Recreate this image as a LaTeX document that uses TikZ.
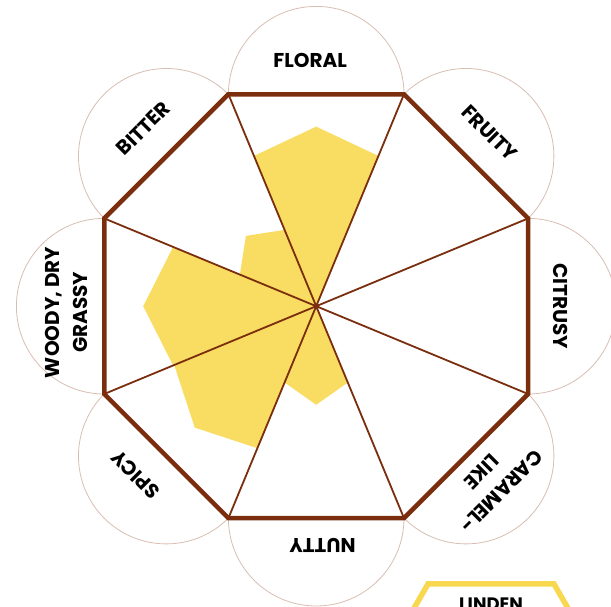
\documentclass[tikz,border=0pt]{standalone}
\usepackage{fontspec}
\usepackage{tikz}
\newfontfamily\labelfont{Poppins}
\definecolor{roast}{HTML}{7A2E0E}
\definecolor{honey}{HTML}{F9DC62}
\definecolor{rimcol}{HTML}{D8BDB2}
\definecolor{badgecol}{HTML}{F7D84F}

\begin{document}
\begin{tikzpicture}[x=1pt,y=1pt,
  spoke/.style={draw=roast, line width=1.8pt},
  rim/.style={draw=rimcol, line width=0.8pt},
  flavour/.style={font=\labelfont\bfseries\fontsize{20}{28}\selectfont,
    align=center, inner sep=0pt},
  ]
  \useasboundingbox (-316.2,-300.8) rectangle (294.8,306.2);
  \foreach \a in {0,45,...,315}
    \draw[rim] (\a:212) circle (87.8);
  \foreach \i in {1,...,8}
    \coordinate (v\i) at ({22.5+45*(\i-1)}:229.4);
  \fill[white] (v1) -- (v2) -- (v3) -- (v4) -- (v5) -- (v6) -- (v7) -- (v8) -- cycle;
  \fill[honey] (0,0)
    \foreach \a/\t/\p in {0/0/0, 45/0/0, 90/.709/.847, 135/.36/.469,
                          180/.675/.816, 225/.67/.81, 270/.36/.465, 315/0/0}
    { -- (\a-22.5:\t*229.4) -- (\a:\p*212) -- (\a+22.5:\t*229.4) } -- cycle;
  \draw[spoke] (v1) -- (v5) (v2) -- (v6) (v3) -- (v7) (v4) -- (v8);
  \draw[roast, line width=4.5pt] (v1) -- (v2) -- (v3) -- (v4) -- (v5) -- (v6) -- (v7) -- (v8) -- cycle;
  \node[flavour] (floral) at (91.4:246) {FLORAL};
  \node[flavour, rotate=-45] (fruity) at (45:245) {FRUITY};
  \node[flavour, rotate=-90] (citrusy) at (0:244) {CITRUSY};
  \node[flavour, rotate=-135] (caramel) at (-45:248) {CARAMEL-\\LIKE};
  \node[flavour, rotate=180] (nutty) at (-88.5:239) {NUTTY};
  \node[flavour, rotate=135] (spicy) at (-137:247) {SPICY};
  \node[flavour, rotate=90] (woody) at (181.4:250) {WOODY, DRY\\GRASSY};
  \node[flavour, rotate=45] (bitter) at (134.2:248) {BITTER};
  \coordinate (b1) at (88.7,-317.8);
  \coordinate (b2) at (111.8,-277.8);
  \coordinate (b3) at (237.8,-277.8);
  \coordinate (b4) at (260.9,-317.8);
  \draw[badgecol, line width=5.5pt] (b1) -- (b2) -- (b3) -- (b4);
  \node[flavour, font=\labelfont\bfseries\fontsize{18}{22}\selectfont, anchor=base] (linden) at (174.8,-304.8) {LINDEN};
\end{tikzpicture}
\end{document}
